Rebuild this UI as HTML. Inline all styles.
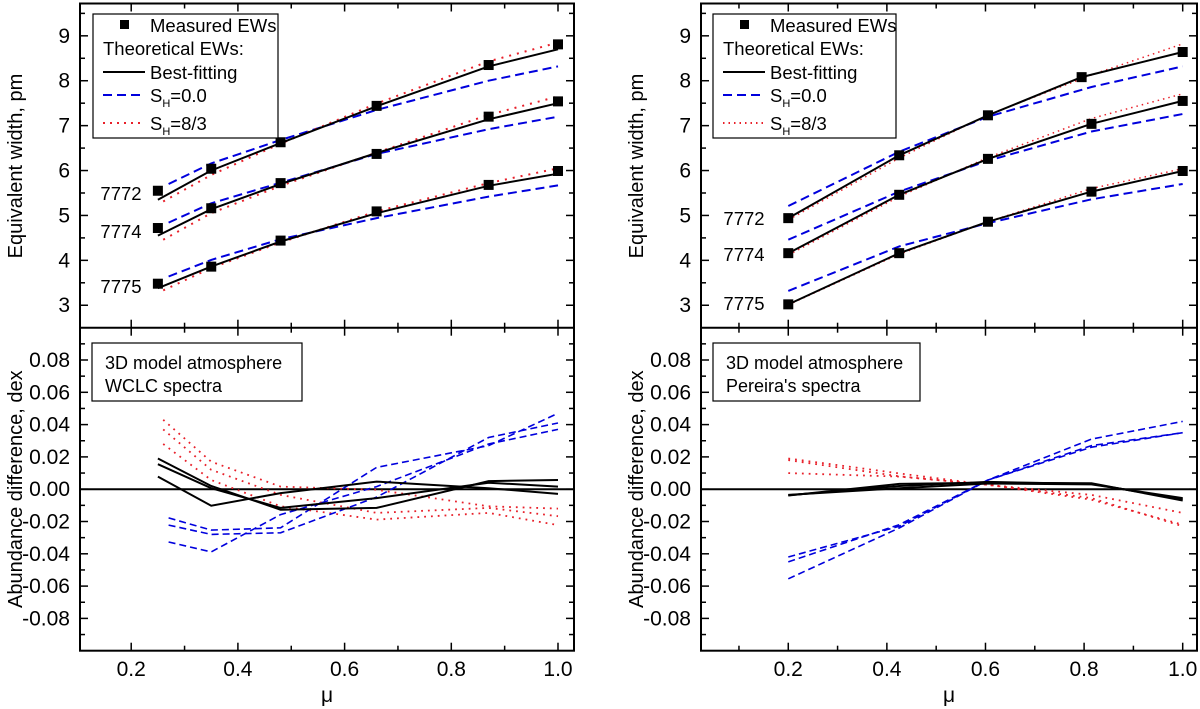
<!DOCTYPE html>
<html><head><meta charset="utf-8"><style>
html,body{margin:0;padding:0;background:#fff;}
svg{display:block;font-family:"Liberation Sans",Arial,sans-serif;}
</style></head><body>
<svg id="chart" width="1200" height="709" viewBox="0 0 1200 709" xmlns="http://www.w3.org/2000/svg"></svg>
<script>
// ---- data ----
const xTickLabels = ["0.2","0.4","0.6","0.8","1.0"];
const xTickValues = [0.2,0.4,0.6,0.8,1.0];
const ewTickValues = [3,4,5,6,7,8,9];
const abTickValues = [-0.08,-0.06,-0.04,-0.02,0,0.02,0.04,0.06,0.08];
const abTickLabels = ["-0.08","-0.06","-0.04","-0.02","0.00","0.02","0.04","0.06","0.08"];

// left panel (WCLC)
const muL = [0.25,0.35,0.48,0.66,0.87,1.0];
const muLsh0 = [0.27,0.35,0.48,0.66,0.87,1.0];
const muLsh8 = [0.26,0.35,0.48,0.66,0.87,1.0];
const measL7772 = [5.55,6.04,6.63,7.44,8.35,8.81];
const bestL7772 = [5.35,6.0,6.61,7.43,8.32,8.70];
const sh0L7772 = [5.7,6.16,6.68,7.35,8.0,8.32];
const sh8L7772 = [5.31,5.9,6.6,7.49,8.43,8.85];
const measL7774 = [4.72,5.16,5.72,6.37,7.2,7.54];
const bestL7774 = [4.55,5.14,5.7,6.39,7.14,7.5];
const sh0L7774 = [4.84,5.27,5.73,6.37,6.92,7.2];
const sh8L7774 = [4.46,5.05,5.66,6.4,7.24,7.65];
const measL7775 = [3.48,3.86,4.44,5.09,5.68,5.99];
const bestL7775 = [3.38,3.86,4.42,5.05,5.66,5.93];
const sh0L7775 = [3.64,4.01,4.47,4.94,5.42,5.67];
const sh8L7775 = [3.33,3.83,4.4,5.09,5.72,6.05];
const abBestL = [[0.019,0.002,-0.0127,-0.0116,0.005,0.0057],[0.0155,0.0006,-0.0116,-0.0055,0.004,0.0016],[0.0078,-0.0102,-0.0024,0.0047,0.0006,-0.0029]];
const abSh0L = [[-0.0178,-0.0253,-0.0239,0.0135,0.027,0.047],[-0.0222,-0.028,-0.027,-0.0049,0.032,0.041],[-0.0327,-0.0388,-0.0157,0.0016,0.028,0.037]];
const abSh8L = [[0.043,0.017,0.0016,-0.0004,-0.0106,-0.012],[0.037,0.012,-0.0035,-0.0147,-0.0116,-0.0167],[0.028,0.0057,-0.0106,-0.0188,-0.0147,-0.0222]];

// right panel (Pereira)
const muR = [0.2,0.425,0.605,0.815,1.0];
const muR72 = [0.2,0.425,0.605,0.795,1.0];
const measR7772 = [4.94,6.34,7.23,8.08,8.64];
const bestR7772 = [4.94,6.34,7.23,8.08,8.64];
const sh0R7772 = [5.21,6.42,7.2,7.86,8.32];
const sh8R7772 = [4.9,6.28,7.24,8.13,8.82];
const measR7774 = [4.16,5.46,6.26,7.04,7.55];
const bestR7774 = [4.16,5.46,6.26,7.04,7.55];
const sh0R7774 = [4.46,5.53,6.22,6.87,7.26];
const sh8R7774 = [4.12,5.42,6.29,7.16,7.71];
const measR7775 = [3.02,4.16,4.86,5.53,5.99];
const bestR7775 = [3.02,4.16,4.86,5.53,5.99];
const sh0R7775 = [3.32,4.31,4.83,5.36,5.7];
const sh8R7775 = [3.01,4.14,4.86,5.6,6.04];
const abBestR = [[-0.0039,0.0033,0.004,0.0037,-0.007],[-0.0035,0.0006,0.0035,0.003,-0.0055],[-0.0037,0.002,0.0045,0.0033,-0.0062]];
const abSh0R = [[-0.042,-0.023,0.0057,0.031,0.042],[-0.045,-0.022,0.0057,0.027,0.035],[-0.0555,-0.024,0.0057,0.026,0.035]];
const abSh8R = [[0.019,0.0098,0.0027,-0.0035,-0.0147],[0.018,0.008,0.0027,-0.0065,-0.022],[0.010,0.0078,0.0027,-0.0055,-0.023]];

// ---- drawing ----
const NS = "http://www.w3.org/2000/svg";
const svg = document.getElementById('chart');
function mk(tag, attrs, parent){
  const e = document.createElementNS(NS, tag);
  for (const k in attrs) e.setAttribute(k, attrs[k]);
  (parent||svg).appendChild(e);
  return e;
}
function txt(s, attrs, parent){ const e = mk('text', attrs, parent); e.textContent = s; return e; }

const panels = [
  {x0:80, x1:574, dmin:0.104, dmax:1.03, name:'left'},
  {x0:701, x1:1197, dmin:0.023, dmax:1.029, name:'right'}
];
const yTop = 3.5, yMid = 327.7, yBot = 650.7;
const ewMin = 2.5, ewMax = 9.72, abMin = -0.1, abMax = 0.1;

function axes(p){
  const sx = v => p.x0 + (v - p.dmin)/(p.dmax - p.dmin)*(p.x1 - p.x0);
  const syT = v => yMid - (v - ewMin)/(ewMax - ewMin)*(yMid - yTop);
  const syB = v => yBot - (v - abMin)/(abMax - abMin)*(yBot - yMid);
  return {sx, syT, syB};
}
function poly(xs, ys, sx, sy, style, name){
  const pts = xs.map((x,i)=> sx(x).toFixed(1)+','+sy(ys[i]).toFixed(1)).join(' ');
  const e = mk('polyline', Object.assign({points:pts, fill:'none'}, style));
  
  
  return e;
}
function squares(xs, ys, sx, sy, name){
  const g = mk('g', {});
  
  
  xs.forEach((x,i)=>{
    const r = mk('rect', {x:sx(x)-5, y:sy(ys[i])-5, width:10, height:10, fill:'#000'}, g);
    
    
  });
}
const solid = {stroke:'#000','stroke-width':2};
const dash = {stroke:'#0000dd','stroke-width':2,'stroke-dasharray':'9,5'};
const dot = {stroke:'#e8202a','stroke-width':2,'stroke-dasharray':'2,6'};
const dashB = {stroke:'#0000dd','stroke-width':1.6,'stroke-dasharray':'7,4'};
const dotB = {stroke:'#e8202a','stroke-width':1.8,'stroke-dasharray':'1.8,5'};

panels.forEach(p=>{
  const {sx, syT, syB} = axes(p);
  const f = mk('rect', {x:p.x0, y:yTop, width:p.x1-p.x0, height:yBot-yTop, fill:'none', stroke:'#000', 'stroke-width':2});
  
  
  const dv = mk('line', {x1:p.x0, x2:p.x1, y1:yMid, y2:yMid, stroke:'#000','stroke-width':2});
  
  
  const tg = mk('g', {stroke:'#000','stroke-width':1.5});
  
  
  for (let k=1;k<=10;k++){
    const v = k/10; const X = sx(v); if (X < p.x0+1 || X > p.x1-1) continue;
    const L = (k%2===0)?8:5;
    mk('line',{x1:X,x2:X,y1:yBot,y2:yBot-L},tg);
    mk('line',{x1:X,x2:X,y1:yTop,y2:yTop+L},tg);
    mk('line',{x1:X,x2:X,y1:yMid-L,y2:yMid+L},tg);
  }
  for (let v=3; v<=9.5; v+=0.5){
    const Y = syT(v); const L = (v%1===0)?8:5;
    mk('line',{x1:p.x0,x2:p.x0+L,y1:Y,y2:Y},tg);
    mk('line',{x1:p.x1,x2:p.x1-L,y1:Y,y2:Y},tg);
  }
  for (let k=-9;k<=9;k++){
    const v = k/100; const Y = syB(v); const L = (k%2===0)?8:5;
    mk('line',{x1:p.x0,x2:p.x0+L,y1:Y,y2:Y},tg);
    mk('line',{x1:p.x1,x2:p.x1-L,y1:Y,y2:Y},tg);
  }
  const z = mk('line',{x1:p.x0,x2:p.x1,y1:syB(0),y2:syB(0),stroke:'#000','stroke-width':2});
  
  
  ewTickValues.forEach(v=>{
    const t = txt(String(v), {x:p.x0-10, y:syT(v)+7, 'font-size':21, 'text-anchor':'end'});
    
    
  });
  abTickValues.forEach((v,i)=>{
    const t = txt(abTickLabels[i], {x:p.x0-10, y:syB(v)+7, 'font-size':21, 'text-anchor':'end'});
    
    
  });
  xTickValues.forEach((v,i)=>{
    const t = txt(xTickLabels[i], {x:sx(v), y:676, 'font-size':21, 'text-anchor':'middle'});
    
    
  });
  const mu = txt('μ', {x:(p.x0+p.x1)/2, y:702, 'font-size':21, 'text-anchor':'middle'});
  
  
  const ax = p.x0 - 58;
  const t1 = txt('Equivalent width, pm', {x:0, y:0, 'font-size':20, 'text-anchor':'middle', transform:`translate(${ax},${syT(6.1)}) rotate(-90)`});
  
  
  const t2 = txt('Abundance difference, dex', {x:0, y:0, 'font-size':20, 'text-anchor':'middle', transform:`translate(${ax},${syB(0)}) rotate(-90)`});
  
  
  p.sx = sx; p.syT = syT; p.syB = syB;
});

(function(){
  const p = panels[0], sx=p.sx, sy=p.syT, sb=p.syB;
  [[bestL7772,sh0L7772,sh8L7772,measL7772,'7772'],[bestL7774,sh0L7774,sh8L7774,measL7774,'7774'],[bestL7775,sh0L7775,sh8L7775,measL7775,'7775']].forEach(s=>{
    poly(muLsh0, s[1], sx, sy, dash, 'sh0-line-'+s[4]);
    poly(muLsh8, s[2], sx, sy, dot, 'sh8-3-line-'+s[4]);
    poly(muL, s[0], sx, sy, solid, 'best-fit-line-'+s[4]);
    squares(muL, s[3], sx, sy, 'measured-ew-'+s[4]);
  });
  abSh8L.forEach(a=>poly(muLsh8, a, sx, sb, dotB, 'abundance-sh8-3'));
  abSh0L.forEach(a=>poly(muLsh0, a, sx, sb, dashB, 'abundance-sh0'));
  abBestL.forEach(a=>poly(muL, a, sx, sb, solid, 'abundance-best-fit'));
})();
(function(){
  const p = panels[1], sx=p.sx, sy=p.syT, sb=p.syB;
  [[bestR7772,sh0R7772,sh8R7772,measR7772,'7772',muR72],[bestR7774,sh0R7774,sh8R7774,measR7774,'7774',muR],[bestR7775,sh0R7775,sh8R7775,measR7775,'7775',muR]].forEach(s=>{
    poly(muR, s[1], sx, sy, dash, 'sh0-line-'+s[4]);
    poly(muR, s[2], sx, sy, {stroke:'#e8202a','stroke-width':1.5,'stroke-dasharray':'1.5,4'}, 'sh8-3-line-'+s[4]);
    poly(s[5], s[0], sx, sy, solid, 'best-fit-line-'+s[4]);
    squares(s[5], s[3], sx, sy, 'measured-ew-'+s[4]);
  });
  abSh8R.forEach(a=>poly(muR, a, sx, sb, dotB, 'abundance-sh8-3'));
  abSh0R.forEach(a=>poly(muR, a, sx, sb, dashB, 'abundance-sh0'));
  abBestR.forEach(a=>poly(muR, a, sx, sb, solid, 'abundance-best-fit'));
})();

[[0,121,[200,238,293]],[1,744,[225,261,310]]].forEach(c=>{
  ['7772','7774','7775'].forEach((s,i)=>{
    const t = txt(s, {x:c[1], y:c[2][i], 'font-size':18.5, 'text-anchor':'middle'});
    
    
  });
});

function legend(x, w, name, style8){
  const g = mk('g', {});
  
  
  mk('rect',{x:x, y:14, width:w, height:124, fill:'#fff', stroke:'#000','stroke-width':1.2}, g);
  mk('rect',{x:x+27, y:20, width:9, height:9, fill:'#000'}, g);
  txt('Measured EWs',{x:x+57, y:32,'font-size':18.5}, g);
  txt('Theoretical EWs:',{x:x+10, y:55,'font-size':18.5}, g);
  mk('line',{x1:x+10,x2:x+52,y1:72,y2:72,stroke:'#000','stroke-width':2}, g);
  txt('Best-fitting',{x:x+57, y:79,'font-size':18.5}, g);
  mk('line',{x1:x+10,x2:x+52,y1:95,y2:95,stroke:'#0000dd','stroke-width':2,'stroke-dasharray':'9,5'}, g);
  const a = txt('S',{x:x+57, y:102,'font-size':18.5}, g);
  const s1 = mk('tspan',{dy:5,'font-size':11},a); s1.textContent='H';
  const s2 = mk('tspan',{dy:-5},a); s2.textContent='=0.0';
  mk('line',{x1:x+10,x2:x+52,y1:123,y2:123,stroke:'#e8202a','stroke-width':2,'stroke-dasharray':style8}, g);
  const b = txt('S',{x:x+57, y:130,'font-size':18.5}, g);
  const s3 = mk('tspan',{dy:5,'font-size':11},b); s3.textContent='H';
  const s4 = mk('tspan',{dy:-5},b); s4.textContent='=8/3';
}
legend(93, 185, 'left-legend', '2,5');
legend(713, 183, 'right-legend', '1.5,4');

function infoBox(x, w, l1, l2, name){
  const g = mk('g', {});
  
  
  mk('rect',{x:x, y:343, width:w, height:58, fill:'#fff', stroke:'#000','stroke-width':1.2}, g);
  txt(l1,{x:x+13, y:369,'font-size':18}, g);
  txt(l2,{x:x+13, y:392,'font-size':18}, g);
}
infoBox(92, 210, '3D model atmosphere', 'WCLC spectra', 'left-info-box');
infoBox(713, 207, '3D model atmosphere', "Pereira's spectra", 'right-info-box');
</script>
</body></html>
